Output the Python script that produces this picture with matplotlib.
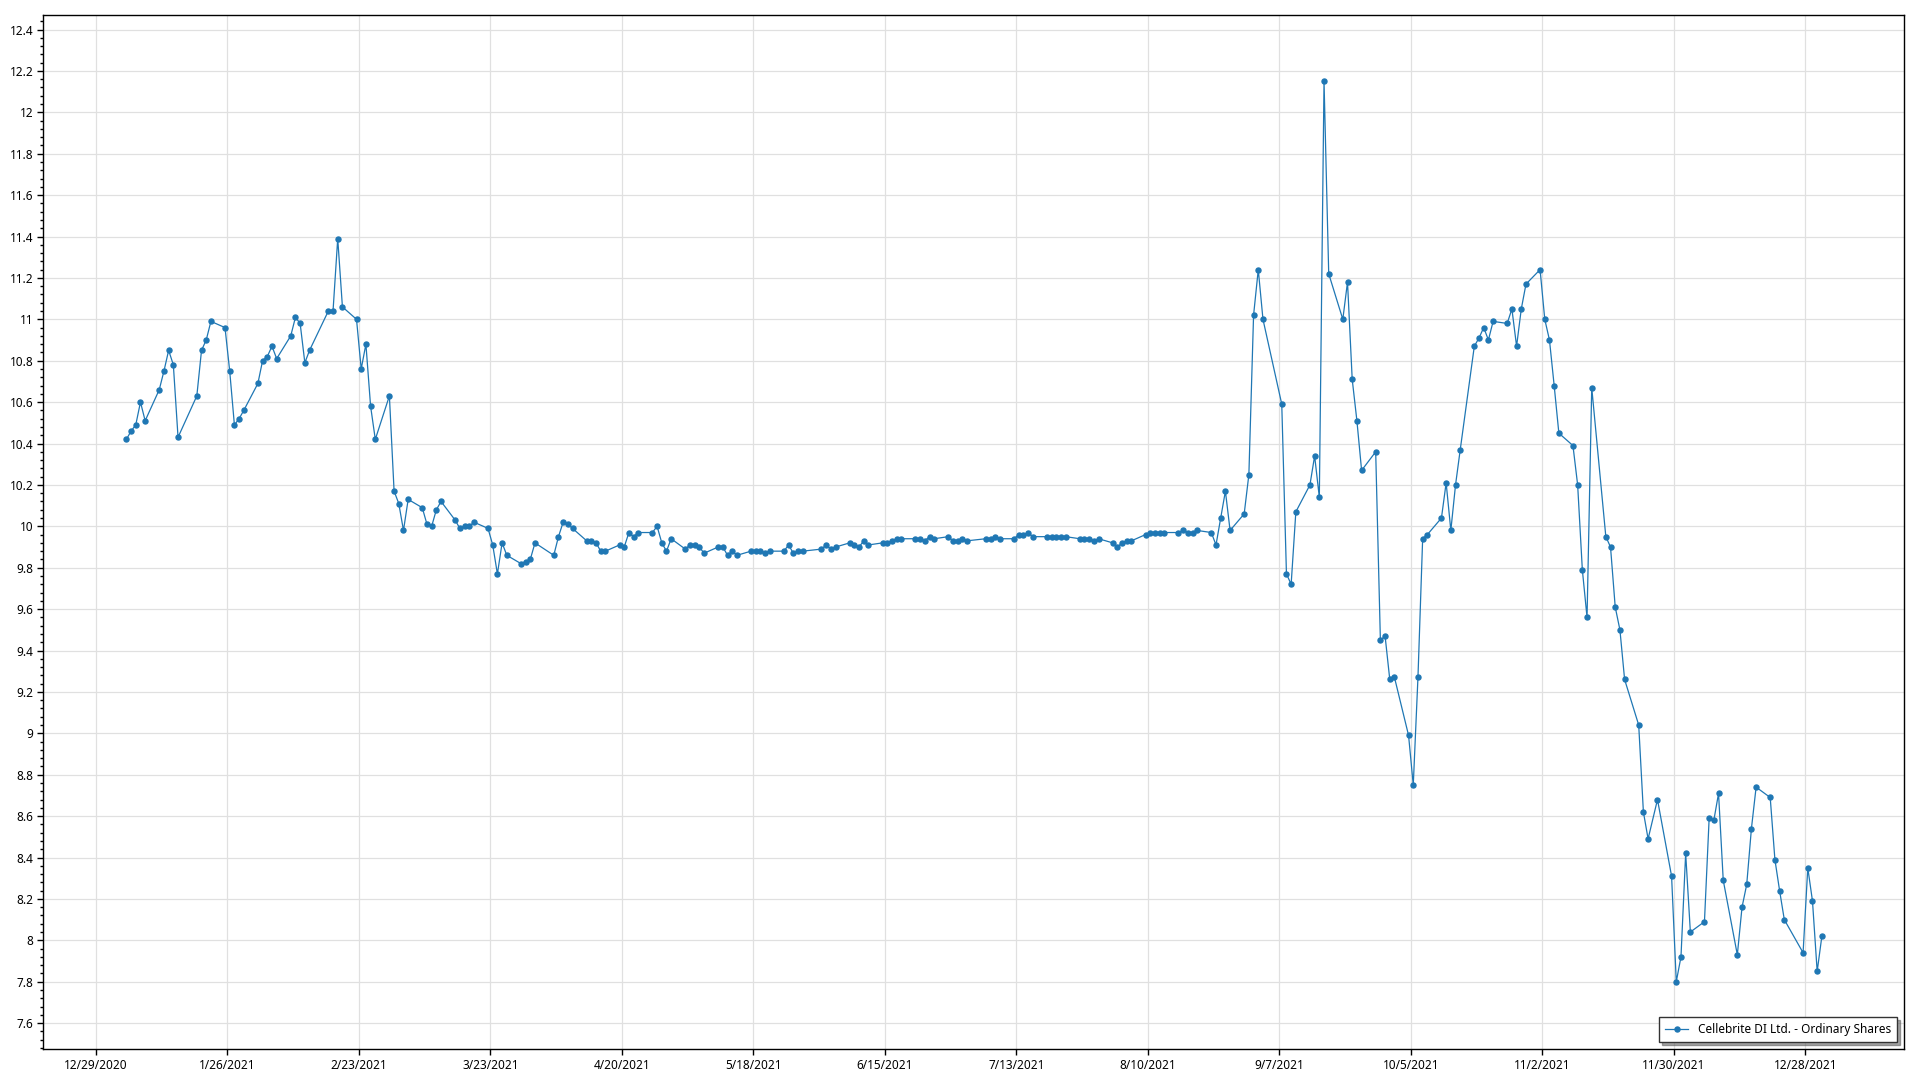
import numpy as np
import pandas as pd
import matplotlib
matplotlib.use("Agg")
import matplotlib.pyplot as plt
import matplotlib.ticker as mticker
import matplotlib.dates as mdates

plt.rcParams['font.family'] = ['Noto Sans', 'DejaVu Sans']

# closing prices, one list per month (trading days only)
jan = [10.42, 10.46, 10.49, 10.60, 10.51, 10.66, 10.75, 10.85, 10.78, 10.43,
       10.63, 10.85, 10.90, 10.99, 10.96, 10.75, 10.49, 10.52, 10.56]
feb = [10.69, 10.80, 10.82, 10.87, 10.81, 10.92, 11.01, 10.98, 10.79, 10.85,
       11.04, 11.04, 11.39, 11.06, 11.00, 10.76, 10.88, 10.58, 10.42]
mar = [10.63, 10.17, 10.11, 9.98, 10.13, 10.09, 10.01, 10.00, 10.08, 10.12,
       10.03, 9.99, 10.00, 10.00, 10.02, 9.99, 9.91, 9.77, 9.92, 9.86,
       9.82, 9.83, 9.84]
apr = [9.92, 9.86, 9.95, 10.02, 10.01, 9.99, 9.93, 9.93, 9.92, 9.88,
       9.88, 9.91, 9.90, 9.97, 9.95, 9.97, 9.97, 10.00, 9.92, 9.88, 9.94]
may = [9.89, 9.91, 9.91, 9.90, 9.87, 9.90, 9.90, 9.86, 9.88, 9.86,
       9.88, 9.88, 9.88, 9.87, 9.88, 9.88, 9.91, 9.87, 9.88, 9.88]
jun = [9.89, 9.91, 9.89, 9.90, 9.92, 9.91, 9.90, 9.93, 9.91, 9.92,
       9.92, 9.93, 9.94, 9.94, 9.94, 9.94, 9.93, 9.95, 9.94, 9.95,
       9.93, 9.93]
jul = [9.94, 9.93, 9.94, 9.94, 9.95, 9.94, 9.94, 9.96, 9.96, 9.97,
       9.95, 9.95, 9.95, 9.95, 9.95, 9.95, 9.94, 9.94, 9.94, 9.93, 9.94]
aug = [9.92, 9.90, 9.92, 9.93, 9.93, 9.96, 9.97, 9.97, 9.97, 9.97,
       9.97, 9.98, 9.97, 9.97, 9.98, 9.97, 9.91, 10.04, 10.17, 9.98,
       10.06, 10.25]
sep = [11.02, 11.24, 11.00, 10.59, 9.77, 9.72, 10.07, 10.20, 10.34, 10.14,
       12.15, 11.22, 11.00, 11.18, 10.71, 10.51, 10.27, 10.36, 9.45, 9.47, 9.26]
oct_ = [9.27, 8.99, 8.75, 9.27, 9.94, 9.96, 10.04, 10.21, 9.98, 10.20,
        10.37, 10.87, 10.91, 10.96, 10.90, 10.99, 10.98, 11.05, 10.87, 11.05, 11.17]
nov = [11.24, 11.00, 10.90, 10.68, 10.45, 10.39, 10.20, 9.79, 9.56, 10.67,
       9.95, 9.90, 9.61, 9.50, 9.26, 9.04, 8.62, 8.49, 8.68, 8.31, 7.80]
dec = [7.92, 8.42, 8.04, 8.09, 8.59, 8.58, 8.71, 8.29, 7.93, 8.16,
       8.27, 8.54, 8.74, 8.69, 8.39, 8.24, 8.10, 7.94, 8.35, 8.19, 7.85, 8.02]

holidays = ['2021-01-01', '2021-01-18', '2021-02-15', '2021-04-02', '2021-05-31',
            '2021-07-05', '2021-09-06', '2021-11-25', '2021-12-24']
series_name = 'Cellebrite DI Ltd. - Ordinary Shares'

prices = jan + feb + mar + apr + may + jun + jul + aug + sep + oct_ + nov + dec
dates = pd.bdate_range('2021-01-04', '2021-12-31', freq='C', holidays=holidays)
dates = dates[:len(prices)]

fig = plt.figure(figsize=(19.2, 10.8), dpi=100)
ax = fig.add_axes([0.0224, 0.0287, 0.9693, 0.9574])

ax.plot(dates + pd.Timedelta(hours=12), prices, color='#1f77b4', lw=0.9,
        marker='o', ms=3.6, mec='#1f77b4', mfc='#1f77b4', label=series_name)

ax.set_xlim(pd.Timestamp('2020-12-17 18:00'), pd.Timestamp('2022-01-18'))
ax.set_ylim(7.475, 12.47)

xticks = pd.date_range('2020-12-29', periods=14, freq='28D')
ax.set_xticks(xticks)
ax.set_xticklabels([f'{d.month}/{d.day}/{d.year}' for d in xticks])
ax.yaxis.set_major_locator(mticker.MultipleLocator(0.2))
ax.yaxis.set_minor_locator(mticker.MultipleLocator(0.04))
ax.yaxis.set_major_formatter(mticker.FuncFormatter(lambda v, p: f'{round(v, 2):g}'))

ax.grid(True, which='major', color='#e0e0e0', lw=0.9)
ax.set_axisbelow(True)
ax.tick_params(axis='both', which='major', length=4, width=1, labelsize=8.5,
               colors='black', pad=3)
ax.tick_params(axis='y', which='minor', length=2.5, width=1)
for s in ax.spines.values():
    s.set_color('black')
    s.set_linewidth(1)

leg = ax.legend(loc='lower right', fontsize=8.5, frameon=True, fancybox=False,
                shadow=True, edgecolor='#333333', framealpha=1, borderpad=0.5,
                handlelength=2.0, borderaxespad=0.6)
leg.get_frame().set_linewidth(1)

fig.savefig('out.png', dpi=100)
